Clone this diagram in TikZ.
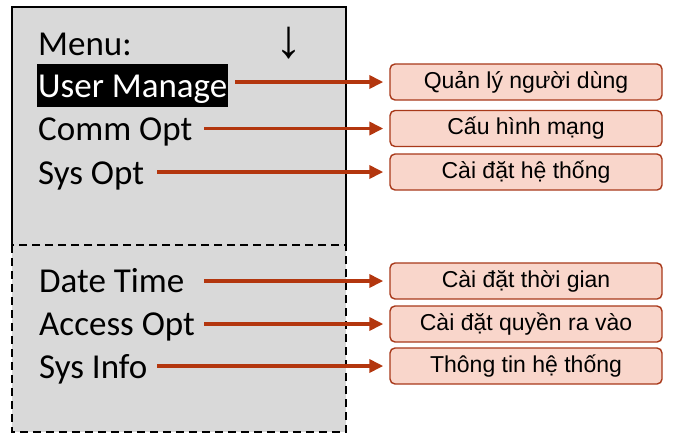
\documentclass[tikz,border=0pt]{standalone}
\usepackage{fontspec}
\setmainfont{Carlito}
\newfontfamily\boxfont{Liberation Sans}
\usetikzlibrary{arrows.meta}
\definecolor{panelgray}{HTML}{D9D9D9}
\definecolor{linkred}{HTML}{B3360E}
\definecolor{boxfill}{HTML}{F9D6CB}
\definecolor{boxedge}{HTML}{A8391A}
\tikzset{
  item/.style={anchor=base west, inner sep=0pt, font=\fontsize{35}{35}\selectfont},
  target/.style={draw=boxedge, line width=1.4pt, fill=boxfill, rounded corners=5pt,
    minimum width=272pt, minimum height=36pt, inner sep=0pt,
    font=\boxfont\fontsize{23}{23}\selectfont},
  link/.style={draw=linkred, line width=3.6pt, -{Triangle[length=14pt,width=13pt]}, shorten >=6pt},
}
\begin{document}
\begin{tikzpicture}[x=1pt,y=-1pt]
\useasboundingbox (0,0) rectangle (682,440);
% panels
\fill[panelgray] (12,7) rectangle (346,432);
\draw[line width=2.7pt] (12,245) -- (12,7) -- (346,7) -- (346,245);
\draw[line width=2.7pt, dash pattern=on 8pt off 5pt] (12,245) -- (12,432) -- (346,432) -- (346,245) -- cycle;
% texts
\node[item] (menu) at (38,55) {Menu:};
\node[inner sep=0pt, font=\boxfont\fontsize{54}{54}\selectfont] (down) at (289,43) {↓};
\node[item, fill=black, text=white, inner xsep=1pt, text height=33pt, text depth=10pt] (um) at (37,97) {User Manage};
\node[item] (co) at (38,140) {Comm Opt};
\node[item] (so) at (38,184) {Sys Opt};
\node[item] (dt) at (39,292) {Date Time};
\node[item] (ao) at (39,335) {Access Opt};
\node[item] (si) at (39,378) {Sys Info};
% targets
\node[target] (t1) at (526,82) {Quản lý người dùng};
\node[target] (t2) at (526,128.5) {Cấu hình mạng};
\node[target] (t3) at (526,172) {Cài đặt hệ thống};
\node[target] (t4) at (526,281) {Cài đặt thời gian};
\node[target] (t5) at (526,324) {Cài đặt quyền ra vào};
\node[target] (t6) at (526,366) {Thông tin hệ thống};
% link start points
\coordinate (s1) at (235,82);
\coordinate (s2) at (204,128.5);
\coordinate (s3) at (157,172);
\coordinate (s4) at (204,281);
\coordinate (s5) at (204,324);
\coordinate (s6) at (157,366);
\draw[link] (s1) -- (t1.west);
\draw[link] (s2) -- (t2.west);
\draw[link] (s3) -- (t3.west);
\draw[link] (s4) -- (t4.west);
\draw[link] (s5) -- (t5.west);
\draw[link] (s6) -- (t6.west);
\end{tikzpicture}
\end{document}
